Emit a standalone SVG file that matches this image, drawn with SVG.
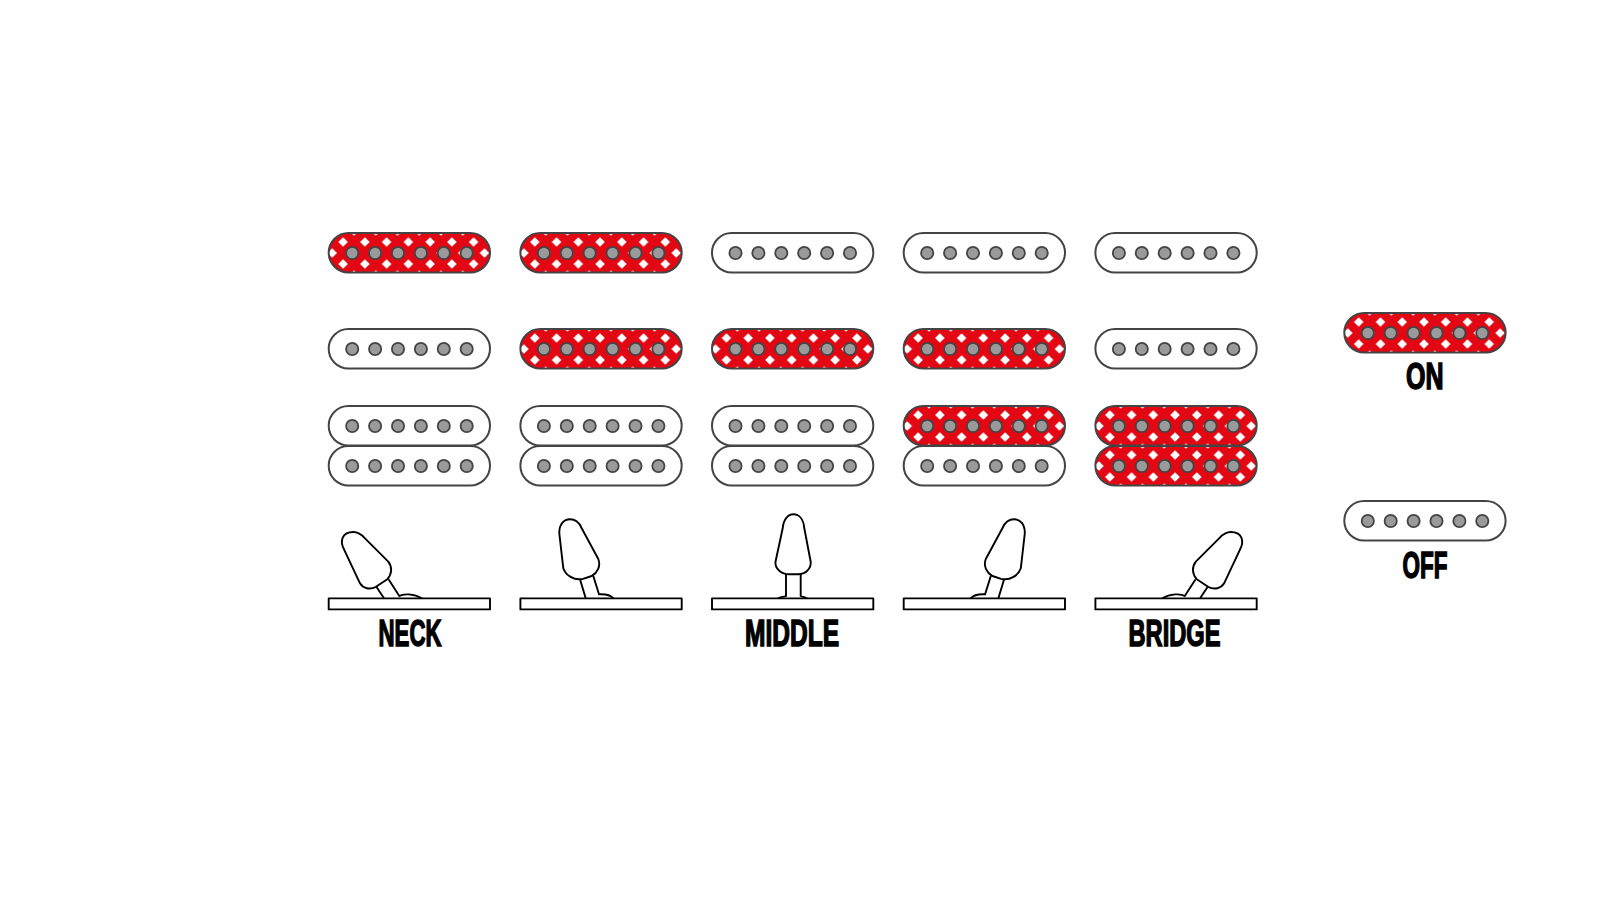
<svg xmlns="http://www.w3.org/2000/svg" xmlns:xlink="http://www.w3.org/1999/xlink" width="1600" height="900" viewBox="0 0 1600 900">
<style>
.shell{stroke:#444;stroke-width:2}
.off{fill:#fff}
.pole{fill:#9a9a9a;stroke:#444;stroke-width:1.8}
.line{fill:#fff;stroke:#000;stroke-width:1.9;stroke-linejoin:round}
.open{fill:none;stroke:#000;stroke-width:1.9;stroke-linecap:round}
.label{font-family:"Liberation Sans Narrow","Liberation Sans",Arial,sans-serif;font-weight:700;font-size:36px;fill:#000;stroke:#000;stroke-width:1.5}
</style>
<defs>
<pattern id="lattice" patternUnits="userSpaceOnUse" width="21.75" height="22" x="3.55" y="-2">
<rect width="21.75" height="22" fill="#e30613"/>
<path d="M0-4.8 4.8 0 0 4.8-4.8 0ZM21.75-4.8 26.55 0 21.75 4.8 16.95 0ZM0 17.2 4.8 22 0 26.8-4.8 22ZM21.75 17.2 26.55 22 21.75 26.8 16.95 22ZM10.875 6.2 15.675 11 10.875 15.8 6.075 11Z" fill="#fff"/>
</pattern>
<g id="poles">
<circle class="pole" cx="23.5" cy="20" r="6.1"/><circle class="pole" cx="46.4" cy="20" r="6.1"/><circle class="pole" cx="69.3" cy="20" r="6.1"/><circle class="pole" cx="92.2" cy="20" r="6.1"/><circle class="pole" cx="115.1" cy="20" r="6.1"/><circle class="pole" cx="138" cy="20" r="6.1"/>
</g>
<g id="pu-off"><rect class="shell off" width="161.3" height="39.5" rx="19.75"/><use href="#poles"/></g>
<g id="pu-on"><rect class="shell" fill="url(#lattice)" width="161.3" height="39.5" rx="19.75"/><use href="#poles"/></g>
<g id="lever-far">
<path class="open" d="M376.7 587.3 384 598.3M389 580 399.3 596C403 593.5 414 593.5 421.7 598.3"/>
<path class="line" d="M344 549.3C339.5 541 342 532 353.3 532C358.5 532 362 535 365 538.3L388.3 561.7C392.5 567 392 574 387.3 579.3L376 586.8C370 590 363 588.5 360 583.3Z"/>
</g>
<g id="lever-near">
<path class="open" d="M580 579.3 585.7 598.3M593.3 576 599 594.3C604 594 610 594.5 613.3 598.3"/>
<path class="line" d="M559.3 533.3C559 524 564 519.3 570 519.3C575.5 519.3 579.5 523 581.7 528.3L598.3 559C601 566 597.5 572.5 591.7 576L583 578.8C574 581 565.5 575 563.3 568.3Z"/>
</g>
</defs>
<rect width="1600" height="900" fill="#fff"/>

<g id="neck-position">
<g id="neck-r1" transform="translate(328.7 233)"><use href="#pu-on"/></g>
<g id="neck-r2" transform="translate(328.7 329)"><use href="#pu-off"/></g>
<g id="neck-r3" transform="translate(328.7 406)"><use href="#pu-off"/></g>
<g id="neck-r4" transform="translate(328.7 446)"><use href="#pu-off"/></g>
<g id="neck-switch"><use href="#lever-far"/><rect class="line" x="328.7" y="598.4" width="161.3" height="11"/></g>
<text class="label" x="378.5" y="646" textLength="63" lengthAdjust="spacingAndGlyphs">NECK</text>
</g>

<g id="neck-middle-position">
<g id="nm-r1" transform="translate(520.4 233)"><use href="#pu-on"/></g>
<g id="nm-r2" transform="translate(520.4 329)"><use href="#pu-on"/></g>
<g id="nm-r3" transform="translate(520.4 406)"><use href="#pu-off"/></g>
<g id="nm-r4" transform="translate(520.4 446)"><use href="#pu-off"/></g>
<g id="nm-switch"><use href="#lever-near"/><rect class="line" x="520.4" y="598.4" width="161.3" height="11"/></g>
</g>

<g id="middle-position">
<g id="middle-r1" transform="translate(712 233)"><use href="#pu-off"/></g>
<g id="middle-r2" transform="translate(712 329)"><use href="#pu-on"/></g>
<g id="middle-r3" transform="translate(712 406)"><use href="#pu-off"/></g>
<g id="middle-r4" transform="translate(712 446)"><use href="#pu-off"/></g>
<g id="middle-switch">
<path class="open" d="M786 574.3V596C784 597 780 597 778.3 598.3M800.7 574.3V596C803 597 805 597 806.7 598.3"/>
<path class="line" d="M782.7 528.3C783.5 519 788 514.3 793.4 514.3C799 514.3 803.5 519 804.3 528.3L810.7 561.7C811.5 569 805 574.3 798 574.3H789C782 574.3 774.5 569 775.5 561.7Z"/>
<rect class="line" x="712" y="598.4" width="161.3" height="11"/>
</g>
<text class="label" x="745" y="646" textLength="94" lengthAdjust="spacingAndGlyphs">MIDDLE</text>
</g>

<g id="middle-bridge-position">
<g id="mb-r1" transform="translate(903.7 233)"><use href="#pu-off"/></g>
<g id="mb-r2" transform="translate(903.7 329)"><use href="#pu-on"/></g>
<g id="mb-r3" transform="translate(903.7 406)"><use href="#pu-on"/></g>
<g id="mb-r4" transform="translate(903.7 446)"><use href="#pu-off"/></g>
<g id="mb-switch"><use href="#lever-near" transform="matrix(-1 0 0 1 1584.1 0)"/><rect class="line" x="903.7" y="598.4" width="161.3" height="11"/></g>
</g>

<g id="bridge-position">
<g id="bridge-r1" transform="translate(1095.4 233)"><use href="#pu-off"/></g>
<g id="bridge-r2" transform="translate(1095.4 329)"><use href="#pu-off"/></g>
<g id="bridge-r3" transform="translate(1095.4 406)"><use href="#pu-on"/></g>
<g id="bridge-r4" transform="translate(1095.4 446)"><use href="#pu-on"/></g>
<g id="bridge-switch"><use href="#lever-far" transform="matrix(-1 0 0 1 1584.1 0)"/><rect class="line" x="1095.4" y="598.4" width="161.3" height="11"/></g>
<text class="label" x="1128.5" y="646" textLength="92" lengthAdjust="spacingAndGlyphs">BRIDGE</text>
</g>

<g id="legend-on">
<g transform="translate(1344.3 313)"><use href="#pu-on"/></g>
<text class="label" x="1406" y="388.5" textLength="37.5" lengthAdjust="spacingAndGlyphs">ON</text>
</g>
<g id="legend-off">
<g transform="translate(1344.3 501)"><use href="#pu-off"/></g>
<text class="label" x="1402.5" y="577.5" textLength="45" lengthAdjust="spacingAndGlyphs">OFF</text>
</g>
</svg>
